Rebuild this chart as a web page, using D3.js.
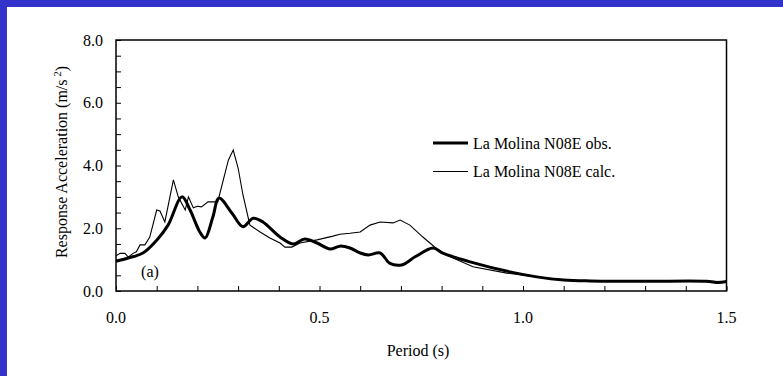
<!DOCTYPE html>
<html>
<head>
<meta charset="utf-8">
<script src="https://cdn.jsdelivr.net/npm/d3@7"></script>
<style>
  body { margin: 0; background: #fff; }
  svg text { font-family: "Liberation Serif", "Times New Roman", serif; fill: #000; }
</style>
</head>
<body>
<div class="canvas"></div>
<script>
// period (s) and response acceleration (m/s2)
const obsPeriod = [0.0, 0.03, 0.066, 0.10, 0.128, 0.162, 0.182, 0.206, 0.219, 0.238, 0.253, 0.285, 0.312, 0.337, 0.361, 0.403, 0.435, 0.464, 0.494, 0.526, 0.55, 0.575, 0.60, 0.62, 0.649, 0.673, 0.702, 0.735, 0.779, 0.803, 0.87, 0.968, 1.034, 1.10, 1.165, 1.30, 1.45, 1.48, 1.50];
const obsAccel  = [0.95, 1.05, 1.21, 1.62, 2.10, 3.00, 2.58, 1.88, 1.69, 2.36, 2.96, 2.48, 2.05, 2.32, 2.20, 1.72, 1.50, 1.66, 1.53, 1.34, 1.43, 1.37, 1.21, 1.15, 1.21, 0.88, 0.83, 1.09, 1.37, 1.21, 0.93, 0.61, 0.45, 0.35, 0.32, 0.31, 0.31, 0.27, 0.30];

const calcPeriod = [0.0, 0.01, 0.022, 0.03, 0.042, 0.05, 0.059, 0.071, 0.083, 0.10, 0.108, 0.12, 0.141, 0.153, 0.17, 0.178, 0.19, 0.20, 0.21, 0.226, 0.25, 0.276, 0.288, 0.30, 0.312, 0.329, 0.354, 0.378, 0.403, 0.415, 0.432, 0.452, 0.494, 0.533, 0.55, 0.575, 0.60, 0.624, 0.649, 0.681, 0.698, 0.722, 0.754, 0.80, 0.828, 0.877, 0.96, 1.034, 1.10, 1.165, 1.30, 1.45, 1.50];
const calcAccel  = [1.12, 1.20, 1.20, 1.08, 1.20, 1.25, 1.47, 1.47, 1.72, 2.58, 2.55, 2.20, 3.54, 3.00, 2.58, 3.00, 2.65, 2.70, 2.68, 2.84, 2.84, 4.17, 4.49, 3.92, 3.06, 2.10, 1.88, 1.69, 1.53, 1.40, 1.40, 1.53, 1.63, 1.75, 1.81, 1.84, 1.88, 2.10, 2.20, 2.17, 2.26, 2.10, 1.72, 1.21, 1.05, 0.77, 0.57, 0.45, 0.36, 0.32, 0.31, 0.31, 0.30];

const xTickLabels = [0.0, 0.5, 1.0, 1.5];
const yTickLabels = [0.0, 2.0, 4.0, 6.0, 8.0];
const seriesNames = ['La Molina N08E obs.', 'La Molina N08E calc.'];

const width = 783, height = 376;
const svg = d3.select('.canvas').append('svg')
    .attr('width', width)
    .attr('height', height);

// blue frame on the left and top
svg.append('rect').attr('x', 0).attr('y', 0).attr('width', width).attr('height', 7).attr('fill', '#3333cc');
svg.append('rect').attr('x', 0).attr('y', 0).attr('width', 7).attr('height', height).attr('fill', '#3333cc');

const plot = {left: 116, top: 40, right: 726.5, bottom: 291};

const x = d3.scaleLinear().domain([0, 1.5]).range([plot.left, plot.right]);
const y = d3.scaleLinear().domain([0, 8]).range([plot.bottom, plot.top]);

// axes with inward ticks
const yAxis = d3.axisRight(y).tickValues(d3.range(0, 8.01, 0.5)).tickSize(5).tickFormat('');
const xAxis = d3.axisTop(x).tickValues(d3.range(0, 1.501, 0.1)).tickSize(5).tickFormat('');

svg.append('g').attr('transform', `translate(${plot.left},0)`).call(yAxis)
    .call(g => g.select('.domain').remove())
    .selectAll('line').attr('stroke', '#000').attr('stroke-width', 1);
svg.append('g').attr('transform', `translate(0,${plot.bottom})`).call(xAxis)
    .call(g => g.select('.domain').remove())
    .selectAll('line').attr('stroke', '#000').attr('stroke-width', 1);

svg.append('rect')
    .attr('x', plot.left).attr('y', plot.top)
    .attr('width', plot.right - plot.left).attr('height', plot.bottom - plot.top)
    .attr('fill', 'none').attr('stroke', '#000').attr('stroke-width', 1.5);

// tick labels
svg.append('g').selectAll('text').data(yTickLabels).join('text')
    .attr('x', 103).attr('y', d => y(d) + 5.5)
    .attr('text-anchor', 'end').attr('font-size', 16)
    .text(d => d.toFixed(1));
svg.append('g').selectAll('text').data(xTickLabels).join('text')
    .attr('x', d => x(d)).attr('y', 323)
    .attr('text-anchor', 'middle').attr('font-size', 16)
    .text(d => d.toFixed(1));

// axis titles
const yTitle = svg.append('text')
    .attr('transform', 'translate(67,162) rotate(-90)')
    .attr('text-anchor', 'middle').attr('font-size', 16);
yTitle.append('tspan').text('Response Acceleration (m/s');
yTitle.append('tspan').attr('font-size', 11).attr('dy', -6).text(' 2');
yTitle.append('tspan').attr('dy', 6).text(')');

svg.append('text')
    .attr('x', 418).attr('y', 356)
    .attr('text-anchor', 'middle').attr('font-size', 16)
    .text('Period (s)');

svg.append('text').attr('x', 150).attr('y', 277)
    .attr('text-anchor', 'middle').attr('font-size', 16).text('(a)');

// curves
const line = d3.line()
    .x(d => x(d[0]))
    .y(d => y(d[1]))
    .curve(d3.curveCatmullRom.alpha(0.5));

svg.append('path')
    .datum(calcPeriod.map((p, i) => [p, calcAccel[i]]))
    .attr('d', d3.line().x(d => x(d[0])).y(d => y(d[1])))
    .attr('fill', 'none').attr('stroke', '#000').attr('stroke-width', 1.1);

svg.append('path')
    .datum(obsPeriod.map((p, i) => [p, obsAccel[i]]))
    .attr('d', line)
    .attr('fill', 'none').attr('stroke', '#000').attr('stroke-width', 3);

// legend
const legend = svg.append('g');
[3, 1.1].forEach((w, i) => {
    const ly = 143 + i * 28.5;
    legend.append('line')
        .attr('x1', 433).attr('x2', 468).attr('y1', ly).attr('y2', ly)
        .attr('stroke', '#000').attr('stroke-width', w);
    legend.append('text')
        .attr('x', 473).attr('y', ly + 5.5).attr('font-size', 16)
        .text(seriesNames[i]);
});
</script>
</body>
</html>
